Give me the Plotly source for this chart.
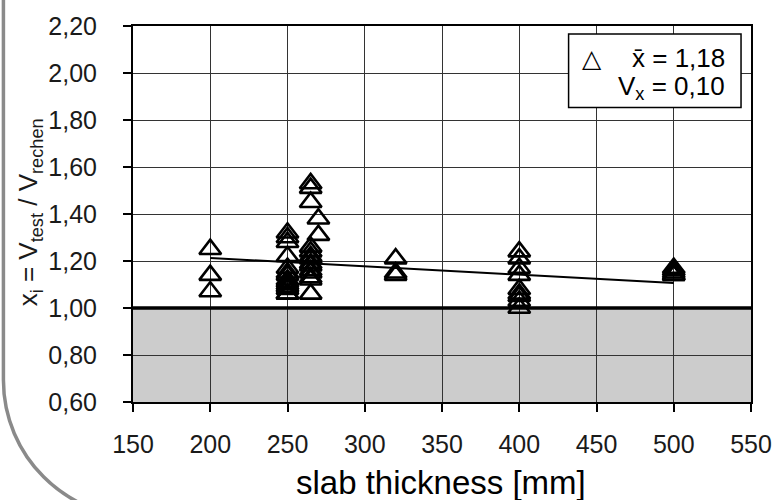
import plotly.graph_objects as go

# Slab thickness [mm] and test/calculation ratio x_i = V_test / V_rechen
slab_mm = [
    200, 200, 200,
    250, 250, 250, 250, 250, 250, 250, 250, 250, 250, 250, 250, 250, 250,
    265, 265, 265, 265, 265, 265, 265, 265, 265, 265, 265, 265, 265, 265,
    270, 270,
    320, 320, 320,
    400, 400, 400, 400, 400, 400, 400, 400, 400,
    500, 500, 500, 500, 500,
]
ratio = [
    1.25, 1.14, 1.07,
    1.32, 1.30, 1.28, 1.22, 1.17, 1.15, 1.14, 1.12, 1.11, 1.10, 1.09, 1.08, 1.06, 1.06,
    1.53, 1.51, 1.45, 1.26, 1.24, 1.22, 1.21, 1.19, 1.18, 1.16, 1.15, 1.13, 1.12, 1.06,
    1.38, 1.31,
    1.21, 1.15, 1.14,
    1.24, 1.21, 1.17, 1.14, 1.08, 1.06, 1.05, 1.03, 1.00,
    1.17, 1.16, 1.15, 1.14, 1.14,
]

# Linear trend through the data
trend_x = [200, 500]
trend_y = [1.213, 1.106]

x_tickvals = [150, 200, 250, 300, 350, 400, 450, 500, 550]
x_ticktext = ["150", "200", "250", "300", "350", "400", "450", "500", "550"]
y_tickvals = [0.6, 0.8, 1.0, 1.2, 1.4, 1.6, 1.8, 2.0, 2.2]
y_ticktext = ["0,60", "0,80", "1,00", "1,20", "1,40", "1,60", "1,80", "2,00", "2,20"]

y_title = "x<sub>i</sub> = V<sub>test</sub> / V<sub>rechen</sub>"
x_title = "slab thickness [mm]"
mean_text = "x\u0304 = 1,18"
cov_text = "V<sub>x</sub> = 0,10"

FONT = "Liberation Sans, Arial, sans-serif"
W, H = 784, 500
ML, MR, MT, MB = 133, 31, 24, 98
PW, PH = W - ML - MR, H - MT - MB


def px(x):
    return (x - ML) / PW


def py(y):
    return (H - MB - y) / PH


fig = go.Figure()

fig.add_trace(go.Scatter(
    x=trend_x, y=trend_y, mode="lines",
    line=dict(color="black", width=2), hoverinfo="skip",
))
fig.add_trace(go.Scatter(
    x=slab_mm, y=ratio, mode="markers",
    marker=dict(symbol="triangle-up-open", size=19, color="black",
                line=dict(width=2.6, color="black")),
))

axis_common = dict(
    showgrid=True, gridcolor="#333333", gridwidth=1.2,
    showline=True, linecolor="black", linewidth=2, mirror=True,
    ticks="outside", ticklen=8, tickwidth=2, tickcolor="black",
    tickfont=dict(family=FONT, size=25, color="#1a1a1a"),
    zeroline=False,
)

fig.update_xaxes(range=[150, 550], tickvals=x_tickvals, ticktext=x_ticktext,
                 ticklabelstandoff=11, **axis_common)
fig.update_yaxes(range=[0.6, 2.2], tickvals=y_tickvals, ticktext=y_ticktext,
                 ticklabelstandoff=21, **axis_common)

shapes = [
    # shaded region below ratio 1.0
    dict(type="rect", xref="x", yref="y", x0=150, x1=550, y0=0.6, y1=1.0,
         fillcolor="#cccccc", line=dict(width=0), layer="below"),
    # reference line at ratio 1.0
    dict(type="line", xref="x", yref="y", x0=150, x1=550, y0=1.0, y1=1.0,
         line=dict(color="black", width=3.5), layer="between"),
    # statistics box
    dict(type="rect", xref="paper", yref="paper",
         x0=px(570), x1=px(743), y0=py(106), y1=py(32),
         fillcolor="white", line=dict(color="black", width=1.5), layer="above"),
    # rounded frame corner
    dict(type="path", xref="paper", yref="paper",
         path=(f"M {px(3)},{py(-5)} L {px(3)},{py(380)} "
               f"C {px(3)},{py(456)} {px(65)},{py(518)} {px(141)},{py(518)}"),
         line=dict(color="#8a8a8a", width=3.5), layer="above"),
]
fig.update_layout(shapes=shapes)

annotations = [
    dict(text=y_title, xref="paper", yref="paper", x=px(29), y=py(211),
         xanchor="center", yanchor="middle", textangle=-90, showarrow=False,
         font=dict(family=FONT, size=26, color="#1a1a1a")),
    dict(text="\u25b3", xref="paper", yref="paper", x=px(593), y=py(57),
         xanchor="center", yanchor="middle", showarrow=False,
         font=dict(family="DejaVu Sans", size=25, color="black")),
    dict(text=mean_text, xref="paper", yref="paper", x=px(729), y=py(56),
         xanchor="right", yanchor="middle", showarrow=False,
         font=dict(family=FONT, size=26, color="black")),
    dict(text=cov_text, xref="paper", yref="paper", x=px(729), y=py(86),
         xanchor="right", yanchor="middle", showarrow=False,
         font=dict(family=FONT, size=26, color="black")),
    dict(text=x_title, xref="paper", yref="paper", x=px(442), y=py(483),
         xanchor="center", yanchor="middle", showarrow=False,
         font=dict(family=FONT, size=33, color="black")),
]
fig.update_layout(annotations=annotations)

fig.update_layout(
    width=W, height=H,
    margin=dict(l=ML, r=MR, t=MT, b=MB),
    paper_bgcolor="white", plot_bgcolor="white",
    showlegend=False,
)

fig.write_html("out.html")
